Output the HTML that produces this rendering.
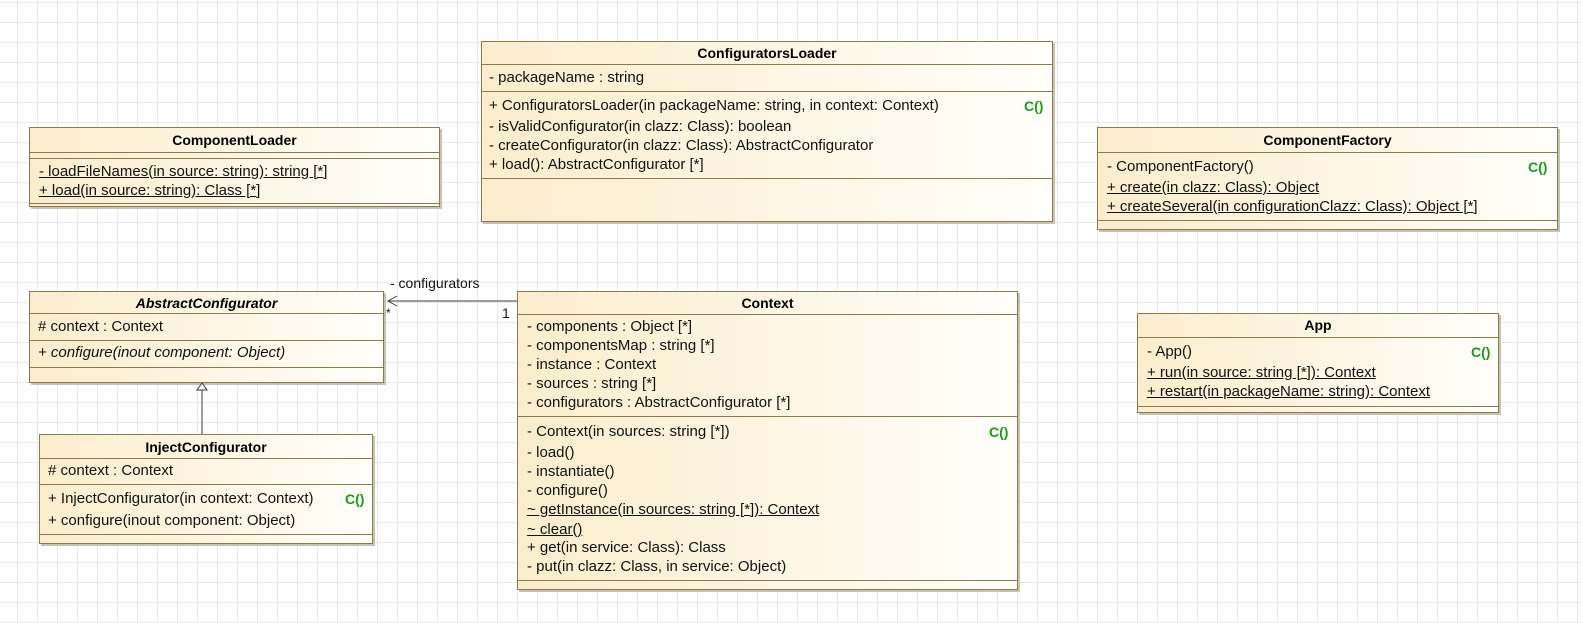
<!DOCTYPE html>
<html><head><meta charset="utf-8"><style>
body{margin:0;width:1582px;height:623px;overflow:hidden;background-color:#fff;
background-image:linear-gradient(to right,#e9e9e9 1px,transparent 1px),linear-gradient(to bottom,#e9e9e9 1px,transparent 1px);
background-size:20px 20px;background-position:17px 2px;position:relative;font-family:"Liberation Sans",Arial,sans-serif}
.b{position:absolute;border:1px solid #8c7a4f;background:linear-gradient(to right,#fbedcc,#fffefa);box-shadow:2px 2px 0 #c9c2b0;box-sizing:border-box}
.l{position:absolute;left:0;right:0;height:0;border-top:1px solid #8c7a4f}
.t{position:absolute;font-size:15px;line-height:20px;white-space:nowrap;color:#111}
.h{position:absolute;left:0;right:0;text-align:center;font-weight:bold;font-size:14px;line-height:20px;color:#000}
.u{text-decoration:underline}
.c{position:absolute;color:#1a9a1a;font-weight:bold;font-size:14px;line-height:20px}
</style></head><body>

<!-- ConfiguratorsLoader 481..1052, 41..221 -->
<div class="b" style="left:481px;top:41px;width:572px;height:181px">
<div class="h" style="top:1px">ConfiguratorsLoader</div>
<div class="l" style="top:22px"></div>
<div class="l" style="top:49px"></div>
<div class="l" style="top:136px"></div>
</div>
<div class="t" style="left:489px;top:68px">- packageName : string</div>
<div class="t" style="left:489px;top:96px">+ ConfiguratorsLoader(in packageName: string, in context: Context)</div>
<div class="c" style="left:1024px;top:96px">C()</div>
<div class="t" style="left:489px;top:117px">- isValidConfigurator(in clazz: Class): boolean</div>
<div class="t" style="left:489px;top:136px">- createConfigurator(in clazz: Class): AbstractConfigurator</div>
<div class="t" style="left:489px;top:155px">+ load(): AbstractConfigurator [*]</div>

<!-- ComponentLoader 29..439, 127..206 -->
<div class="b" style="left:29px;top:127px;width:411px;height:80px">
<div class="h" style="top:2px">ComponentLoader</div>
<div class="l" style="top:24px"></div>
<div class="l" style="top:30px"></div>
<div class="l" style="top:75px"></div>
</div>
<div class="t u" style="left:39px;top:162px">- loadFileNames(in source: string): string [*]</div>
<div class="t u" style="left:39px;top:181px">+ load(in source: string): Class [*]</div>

<!-- ComponentFactory 1097..1557, 127..229 -->
<div class="b" style="left:1097px;top:127px;width:461px;height:103px">
<div class="h" style="top:2px">ComponentFactory</div>
<div class="l" style="top:24px"></div>
<div class="l" style="top:92px"></div>
</div>
<div class="t" style="left:1107px;top:157px">- ComponentFactory()</div>
<div class="c" style="left:1528px;top:157px">C()</div>
<div class="t u" style="left:1107px;top:178px">+ create(in clazz: Class): Object</div>
<div class="t u" style="left:1107px;top:197px">+ createSeveral(in configurationClazz: Class): Object [*]</div>

<!-- App 1137..1498, 313..412 -->
<div class="b" style="left:1137px;top:313px;width:362px;height:100px">
<div class="h" style="top:1px">App</div>
<div class="l" style="top:23px"></div>
<div class="l" style="top:92px"></div>
</div>
<div class="t" style="left:1147px;top:342px">- App()</div>
<div class="c" style="left:1471px;top:342px">C()</div>
<div class="t u" style="left:1147px;top:363px">+ run(in source: string [*]): Context</div>
<div class="t u" style="left:1147px;top:382px">+ restart(in packageName: string): Context</div>

<!-- AbstractConfigurator 29..383, 291..382 -->
<div class="b" style="left:29px;top:291px;width:355px;height:92px">
<div class="h" style="top:1px;font-style:italic">AbstractConfigurator</div>
<div class="l" style="top:21px"></div>
<div class="l" style="top:48px"></div>
<div class="l" style="top:75px"></div>
</div>
<div class="t" style="left:38px;top:317px"># context : Context</div>
<div class="t" style="left:38px;top:343px;font-style:italic">+ configure(inout component: Object)</div>

<!-- InjectConfigurator 39..372, 434..543 -->
<div class="b" style="left:39px;top:434px;width:334px;height:110px">
<div class="h" style="top:2px">InjectConfigurator</div>
<div class="l" style="top:23px"></div>
<div class="l" style="top:49px"></div>
<div class="l" style="top:99px"></div>
</div>
<div class="t" style="left:48px;top:461px"># context : Context</div>
<div class="t" style="left:48px;top:489px">+ InjectConfigurator(in context: Context)</div>
<div class="c" style="left:345px;top:489px">C()</div>
<div class="t" style="left:48px;top:511px">+ configure(inout component: Object)</div>

<!-- Context 517..1017, 291..589 -->
<div class="b" style="left:517px;top:291px;width:501px;height:299px">
<div class="h" style="top:1px">Context</div>
<div class="l" style="top:22px"></div>
<div class="l" style="top:124px"></div>
<div class="l" style="top:288px"></div>
</div>
<div class="t" style="left:527px;top:317px">- components : Object [*]</div>
<div class="t" style="left:527px;top:336px">- componentsMap : string [*]</div>
<div class="t" style="left:527px;top:355px">- instance : Context</div>
<div class="t" style="left:527px;top:374px">- sources : string [*]</div>
<div class="t" style="left:527px;top:393px">- configurators : AbstractConfigurator [*]</div>
<div class="t" style="left:527px;top:422px">- Context(in sources: string [*])</div>
<div class="c" style="left:989px;top:422px">C()</div>
<div class="t" style="left:527px;top:443px">- load()</div>
<div class="t" style="left:527px;top:462px">- instantiate()</div>
<div class="t" style="left:527px;top:481px">- configure()</div>
<div class="t u" style="left:527px;top:500px">~ getInstance(in sources: string [*]): Context</div>
<div class="t u" style="left:527px;top:520px">~ clear()</div>
<div class="t" style="left:527px;top:538px">+ get(in service: Class): Class</div>
<div class="t" style="left:527px;top:557px">- put(in clazz: Class, in service: Object)</div>

<!-- connectors -->
<svg width="1582" height="623" style="position:absolute;left:0;top:0">
<line x1="388" y1="301" x2="517" y2="301" stroke="#3a3a3a" stroke-width="1"/>
<polyline points="397,296 388,301 397,306" fill="none" stroke="#3a3a3a" stroke-width="1"/>
<line x1="202" y1="390" x2="202" y2="434" stroke="#3a3a3a" stroke-width="1"/>
<polygon points="202,383 197,390 207,390" fill="#fff" stroke="#3a3a3a" stroke-width="1"/>
</svg>
<div class="t" style="left:390px;top:273px;font-size:14px">- configurators</div>
<div class="t" style="left:386px;top:303px;font-size:12px">*</div>
<div class="t" style="left:502px;top:303px;font-size:14px">1</div>
</body></html>
